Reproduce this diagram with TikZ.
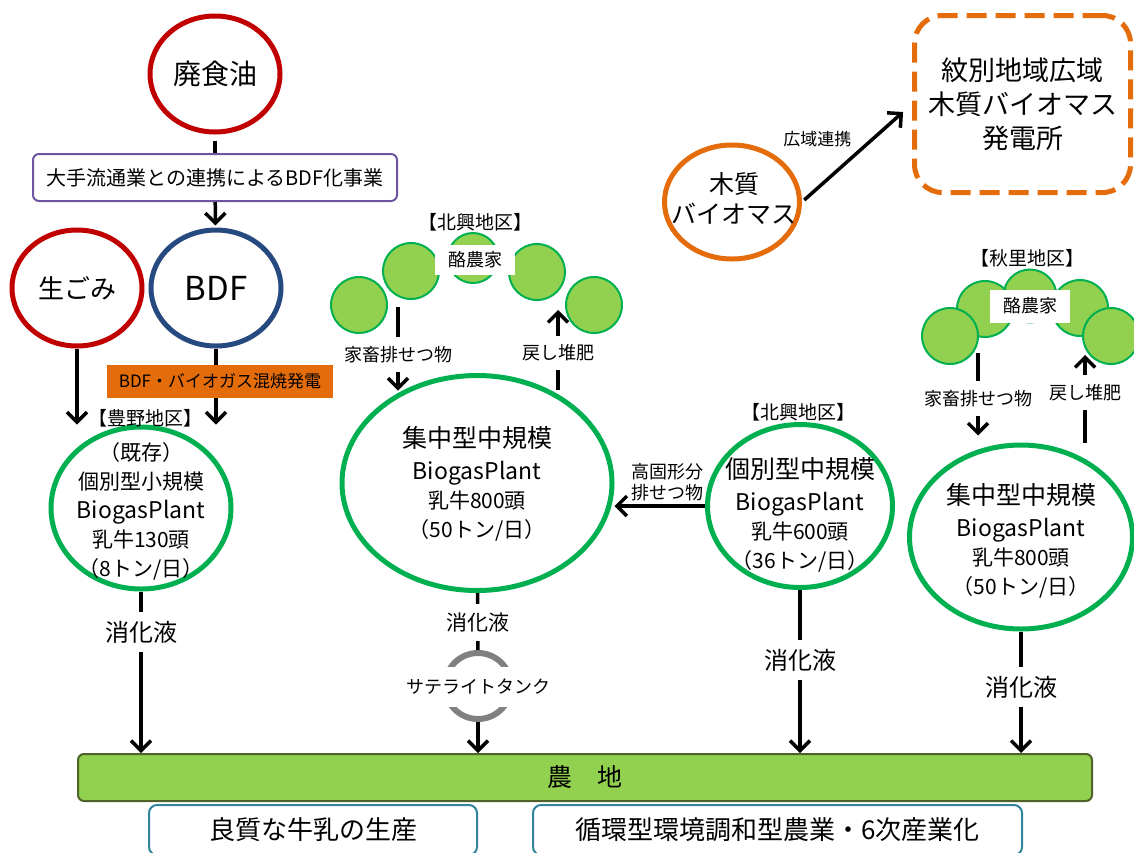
\documentclass[tikz,border=0pt]{standalone}
\usepackage{fontspec}
\setmainfont{Noto Sans CJK JP}
\usetikzlibrary{arrows.meta,shapes.geometric}
\definecolor{OilClr}{RGB}{192,0,0}
\definecolor{BdfClr}{RGB}{38,74,128}
\definecolor{BoxClr}{RGB}{112,84,160}
\definecolor{MixClr}{RGB}{228,108,10}
\definecolor{PlantClr}{RGB}{0,176,80}
\definecolor{FarmClr}{RGB}{146,208,80}
\definecolor{FieldClr}{RGB}{79,98,40}
\definecolor{TankClr}{RGB}{128,128,128}
\definecolor{GoalClr}{RGB}{49,132,155}
\newcommand{\fsz}[1]{\fontsize{#1}{#1}\selectfont}

\begin{document}
\begin{tikzpicture}[x=1pt,y=-1pt,
  src/.style={ellipse,draw,line width=5pt,minimum width=130pt,minimum height=116pt,align=center,inner sep=0pt},
  plant/.style={ellipse,draw=PlantClr,line width=5pt,inner sep=0pt},
  plantTxt/.style={align=center,inner sep=0pt,font=\fontsize{21}{29}\selectfont},
  farm/.style={circle,draw=PlantClr,fill=FarmClr,line width=2pt,minimum size=56pt,inner sep=0pt},
  farmtag/.style={fill=white,minimum width=80pt,minimum height=30pt,font=\fsz{18}},
  area/.style={font=\fsz{19}},
  flow/.style={line width=3.5pt,-{Straight Barb[length=10pt,width=20pt]}},
  link/.style={line width=3.5pt},
  tag/.style={fill=white,inner xsep=2pt,inner ysep=9pt},
  goal/.style={draw=GoalClr,line width=2pt,rounded corners=8pt,minimum height=50pt,font=\fsz{26}}]
\useasboundingbox (0,0) rectangle (1134,852);
\clip (0,0) rectangle (1134,852);

\node[src,draw=OilClr,font=\fsz{28}] (oil) at (215,74) {廃食油};
\node[draw=BoxClr,line width=2pt,rounded corners=6pt,minimum width=364pt,minimum height=47pt,inner sep=0pt,font=\fsz{20}] (bdfbox) at (215,177.5) {大手流通業との連携によるBDF化事業};
\node[src,draw=OilClr,font=\fsz{26}] (gomi) at (77,288) {生ごみ};
\node[src,draw=BdfClr,font=\fsz{33}] (bdf) at (216,288) {BDF};
\draw[link,shorten <=6pt] (oil) -- (bdfbox);
\draw[flow,shorten >=2pt] (bdfbox) -- (bdf);

\node[plant,minimum width=180pt,minimum height=162pt] (lplant) at (141,508) {};
\node[plantTxt] (lplant-txt) at (141,511) {（既存）\\個別型小規模\\{\fontsize{23}{29}\selectfont BiogasPlant}\\乳牛130頭\\（8トン/日）};
\node[area] (toyono) at (145,418) {【豊野地区】};
\draw[flow] (gomi) -- (gomi |- lplant.north);
\draw[flow] (bdf) -- (bdf |- lplant.north);
\node[fill=MixClr,minimum width=226pt,minimum height=33pt,inner sep=0pt,font=\fsz{17}] (mix) at (220,381.5) {BDF・バイオガス混焼発電};

\node[plant,minimum width=270pt,minimum height=215pt] (mplant) at (477,483) {};
\node[plantTxt] (mplant-txt) at (477,484) {{\fontsize{25}{29}\selectfont 集中型中規模}\\[3pt]{\fontsize{23}{29}\selectfont BiogasPlant}\\乳牛800頭\\（50トン/日）};

\node[farm,minimum size=50pt] (hk3) at (473,258) {};
\node[farm] (hk2) at (411,271) {};
\node[farm] (hk4) at (537,272) {};
\node[farm] (hk1) at (359,305) {};
\node[farm] (hk5) at (594,305) {};
\node[farmtag] (hk-tag) at (475,259.5) {酪農家};
\node[area] (hokko1) at (475,222) {【北興地区】};
\coordinate (hk-out) at (398,307);
\coordinate (hk-back) at (558,310);
\draw[flow] (hk-out) -- node[tag,pos=.57,font=\fsz{18}] (hk-manure) {家畜排せつ物} (hk-out |- mplant.129);
\draw[flow] (hk-back |- mplant.52) -- node[tag,pos=.46,font=\fsz{18}] (hk-compost) {戻し堆肥} (hk-back);

\node[plant,minimum width=185pt,minimum height=163pt] (iplant) at (800,506) {};
\node[plantTxt] (iplant-txt) at (800,515) {{\fontsize{25}{29}\selectfont 個別型中規模}\\[3pt]{\fontsize{23}{29}\selectfont BiogasPlant}\\乳牛600頭\\（36トン/日）};
\node[area] (hokko2) at (798,412) {【北興地区】};
\draw[flow] (iplant) -- node[above,xshift=8pt,align=center,font=\fontsize{18}{21}\selectfont] (solid) {高固形分\\排せつ物} (iplant -| mplant.east);

\node[plant,minimum width=223pt,minimum height=184pt] (rplant) at (1021,537) {};
\node[plantTxt] (rplant-txt) at (1021,541) {{\fontsize{25}{29}\selectfont 集中型中規模}\\[3pt]{\fontsize{23}{29}\selectfont BiogasPlant}\\乳牛800頭\\（50トン/日）};

\node[farm,minimum size=53pt] (ak3) at (1030,296) {};
\node[farm] (ak2) at (985,309) {};
\node[farm] (ak4) at (1080,308) {};
\node[farm] (ak1) at (950,336) {};
\node[farm] (ak5) at (1111,336) {};
\node[farmtag,minimum height=33pt] (ak-tag) at (1030,306) {酪農家};
\node[area] (akisato) at (1027,258) {【秋里地区】};
\coordinate (ak-out) at (978,353);
\coordinate (ak-back) at (1085,355);
\draw[flow,shorten >=7pt] (ak-out) -- node[tag,pos=.51,font=\fsz{18}] (ak-manure) {家畜排せつ物} (ak-out |- rplant.north);
\draw[flow] (ak-back |- rplant.north) -- node[tag,pos=.57,font=\fsz{18}] (ak-compost) {戻し堆肥} (ak-back);

\node[src,draw=MixClr,minimum width=135pt,minimum height=114pt] (wood) at (732,202) {};
\node[align=center,inner sep=0pt,font=\fontsize{25}{30}\selectfont] (wood-txt) at (734,199) {木質\\バイオマス};
\node[draw=MixClr,line width=5pt,dash pattern=on 20pt off 9pt,rounded corners=28pt,minimum width=216pt,minimum height=177pt,align=center,font=\fontsize{27}{34}\selectfont] (power) at (1022.5,104) {紋別地域広域\\木質バイオマス\\発電所};
\draw[flow,shorten <=3pt,shorten >=12pt] (wood.east) -- node[midway,above left,inner sep=4pt,font=\fsz{17}] (wide) {広域連携} (power.west);

\node[draw=FieldClr,fill=FarmClr,line width=2pt,rounded corners=6pt,minimum width=1014pt,minimum height=47pt,font=\fsz{25}] (field) at (585,777.5) {農\hspace{1em}地};
\node[goal,minimum width=328pt] (milk) at (313,830) {良質な牛乳の生産};
\node[goal,minimum width=489pt] (cycle) at (777.5,830) {循環型環境調和型農業・6次産業化};

\node[circle,draw=TankClr,line width=6pt,minimum size=66pt] (ring) at (478,686) {};
\node[fill=white,inner xsep=1pt,minimum height=40pt,font=\fsz{18}] (tank) at (478,687) {サテライトタンク};
\draw[link] (mplant) -- node[tag,pos=.52,font=\fsz{21}] (m-dig) {消化液} (ring);
\draw[flow] (ring) -- (ring |- field.north);

\draw[flow] (lplant) -- node[tag,pos=.25,font=\fsz{24}] (l-dig) {消化液} (lplant |- field.north);
\draw[flow] (iplant) -- node[tag,pos=.43,font=\fsz{24}] (i-dig) {消化液} (iplant |- field.north);
\draw[flow] (rplant) -- node[tag,pos=.46,font=\fsz{24}] (r-dig) {消化液} (rplant |- field.north);

\end{tikzpicture}
\end{document}
